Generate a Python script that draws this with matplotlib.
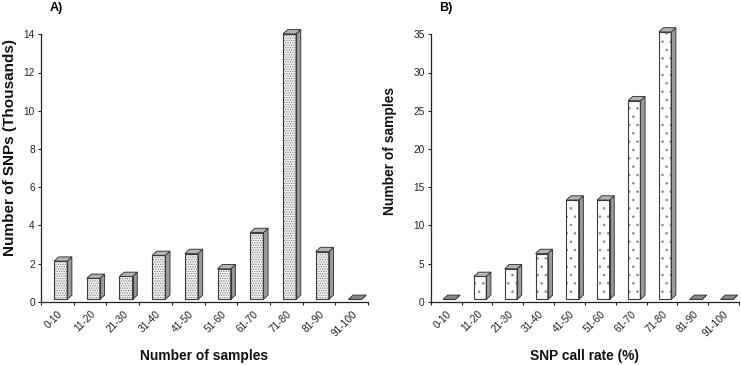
import matplotlib
matplotlib.use("Agg")
import matplotlib.pyplot as plt
from matplotlib.patches import Polygon
import numpy as np

plt.rcParams['font.family'] = ['Liberation Sans', 'DejaVu Sans']
plt.rcParams['hatch.linewidth'] = 0.6

categories = ["0-10", "11-20", "21-30", "31-40", "41-50", "51-60",
              "61-70", "71-80", "81-90", "91-100"]
snps_thousands = [2.0, 1.1, 1.2, 2.3, 2.4, 1.6, 3.5, 13.9, 2.5, 0.0]
samples_count = [0, 3, 4, 6, 13, 13, 26, 35, 0, 0]

W, H = 741, 365
fig = plt.figure(figsize=(W / 100, H / 100), dpi=100)


def px_axes(l, r, t, b):
    return [l / W, (H - b) / H, (r - l) / W, (b - t) / H]


def panel(ax, values, ymax, ystep, hatch, hatch_col, face, ylabel, ylab_size,
          xlabel, ylab_xy, tag, tag_x):
    n = len(values)
    ax.set_xlim(-0.5, n - 0.5)
    ax.set_ylim(0, ymax)
    bb = ax.get_position()
    ax_w_px = bb.width * W
    ax_h_px = bb.height * H
    ppx = ax_w_px / n
    ppy = ax_h_px / ymax
    base = 2.3 / ppy
    dx = 4.7 / ppx
    dy = 4.3 / ppy
    x = np.arange(n)
    left = x - 0.1
    width = 0.4
    ax.bar(x + 0.1, values, width=width, bottom=base, color=face,
           hatch=hatch, edgecolor=hatch_col, linewidth=0, clip_on=False, zorder=3)
    ax.bar(x + 0.1, values, width=width, bottom=base, fill=False,
           edgecolor='#3a3a3a', linewidth=0.8, clip_on=False, zorder=4)
    for xi, v in zip(left, values):
        xr = xi + width
        top = base + v
        side = Polygon([(xr, base), (xr + dx, base + dy), (xr + dx, top + dy), (xr, top)],
                       closed=True, facecolor='#9a9a9a', edgecolor='#3a3a3a',
                       linewidth=0.7, clip_on=False, zorder=3)
        topf = Polygon([(xi, top), (xi + dx, top + dy), (xr + dx, top + dy), (xr, top)],
                       closed=True, facecolor='#b4b4b4' if v > 0 else '#8a8a8a',
                       edgecolor='#3a3a3a', linewidth=0.7, clip_on=False, zorder=3)
        ax.add_patch(side)
        ax.add_patch(topf)

    for s in ['top', 'right']:
        ax.spines[s].set_visible(False)
    for s in ['left', 'bottom']:
        ax.spines[s].set_color('#222222')
        ax.spines[s].set_linewidth(0.9)
    ax.set_yticks(np.arange(0, ymax + 0.01, ystep))
    ax.tick_params(axis='y', direction='out', length=2.5, width=0.8,
                   labelsize=7.3, pad=2, colors='#222222')
    ax.set_xticks(np.arange(-0.5, n, 1.0))
    ax.set_xticklabels([])
    ax.tick_params(axis='x', which='major', direction='out', length=2.5, width=0.8,
                   colors='#222222')
    ax.set_xticks(x, minor=True)
    ax.set_xticklabels(categories, minor=True, rotation=45, ha='right',
                       rotation_mode='anchor', fontsize=7.3, color='#222222')
    ax.tick_params(axis='x', which='minor', length=0, pad=5)
    ax.set_ylabel(ylabel, fontsize=ylab_size, fontweight='bold', color='#111111')
    ax.yaxis.set_label_coords(*ylab_xy)
    ax.set_xlabel(xlabel, fontsize=9.9, fontweight='bold', color='#111111')
    ax.xaxis.set_label_coords(0.5, -0.178)
    fig.text(tag_x / W, 1 - 8 / H, tag, fontsize=9, fontweight='bold',
             ha='left', va='center')


axA = fig.add_axes(px_axes(41, 368, 34.3, 301.7))
panel(axA, snps_thousands, 14, 2, '.......', '#7a7a7a', '#f4f4f4',
      'Number of SNPs (Thousands)', 11.0, 'Number of samples', (-0.072, 0.578),
      'A)', 50)

axB = fig.add_axes(px_axes(430.7, 739, 34.3, 301.7))
panel(axB, samples_count, 35, 5, '..', '#8a8a8a', 'white',
      'Number of samples', 9.9, 'SNP call rate (%)', (-0.108, 0.563),
      'B)', 439)

fig.savefig('out.png', dpi=100)
